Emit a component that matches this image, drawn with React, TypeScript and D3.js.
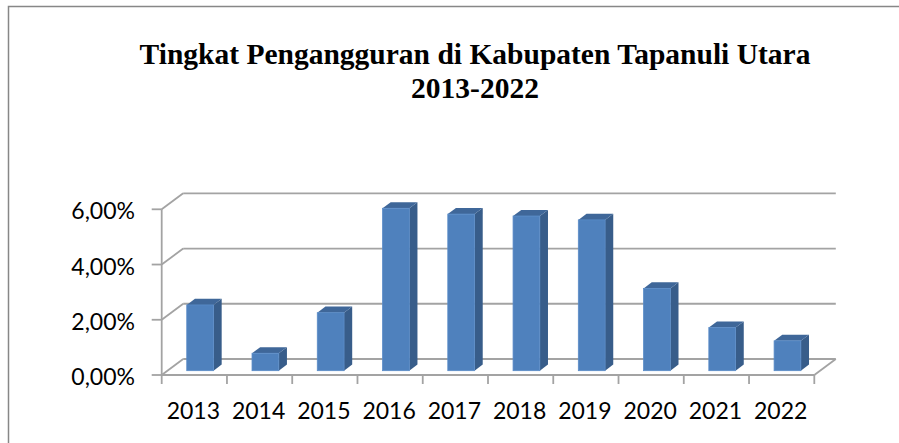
import React from "react";
import * as d3 from "d3";

const years = ["2013", "2014", "2015", "2016", "2017", "2018", "2019", "2020", "2021", "2022"];
const rates = [2.38, 0.63, 2.1, 5.88, 5.67, 5.6, 5.46, 2.98, 1.56, 1.08];
const yTicks = [0, 2, 4, 6];
const titleLines = ["Tingkat Pengangguran di Kabupaten Tapanuli Utara", "2013-2022"];

const W = 899;
const H = 443;
const DX = 21.5;
const DY = -16;
const BAR_DEPTH_START = 0.27;
const BAR_DEPTH = 0.38;

export default function App() {
  const x = d3.scaleBand<string>().domain(years).range([161.7, 814.3]).padding(0);
  const y = d3.scaleLinear().domain([0, 6]).range([375, 209.3]);
  const x0 = x.range()[0];
  const x1 = x.range()[1];
  const bw = x.bandwidth() * 0.41;
  const fmt = (v: number) => v.toFixed(2).replace(".", ",") + "%";
  const grid = "#a3a3a3";
  const fdx = BAR_DEPTH_START * DX;
  const fdy = BAR_DEPTH_START * DY;
  const bdx = BAR_DEPTH * DX;
  const bdy = BAR_DEPTH * DY;

  return (
    <svg width={W} height={H} style={{ position: "absolute", left: 0, top: 0 }}>
      <rect x={0} y={0} width={W} height={H} fill="#fff" />
      <rect x={8.5} y={6.5} width={950} height={500} fill="none" stroke="#878787" strokeWidth={1.5} />
      {titleLines.map((t, i) => (
        <text
          key={t}
          x={475}
          y={64 + i * 34}
          textAnchor="middle"
          fontFamily="'Liberation Serif', 'Times New Roman', serif"
          fontWeight="bold"
          fontSize={29.5}
          fill="#000"
        >
          {t}
        </text>
      ))}
      {/* back wall gridlines and left wall diagonals */}
      {yTicks.map((v) => (
        <g key={"g" + v} stroke={grid} strokeWidth={1.8} fill="none">
          <line x1={x0 + DX} y1={y(v) + DY} x2={x1 + DX} y2={y(v) + DY} />
          <line x1={x0} y1={y(v)} x2={x0 + DX} y2={y(v) + DY} />
          <line x1={x0 - 10} y1={y(v)} x2={x0} y2={y(v)} />
        </g>
      ))}
      <g stroke={grid} strokeWidth={1.8} fill="none">
        <line x1={x0} y1={y(0)} x2={x0} y2={y(6)} />
        <line x1={x0} y1={y(0)} x2={x1} y2={y(0)} />
        <line x1={x1} y1={y(0)} x2={x1 + DX} y2={y(0) + DY} />
        {years.map((yr) => (
          <line key={"t" + yr} x1={(x(yr) as number) + x.bandwidth()} y1={y(0)} x2={(x(yr) as number) + x.bandwidth()} y2={y(0) + 9} />
        ))}
        <line x1={x0} y1={y(0)} x2={x0} y2={y(0) + 9} />
      </g>
      {/* bars */}
      {years.map((yr, i) => {
        const cx = (x(yr) as number) + x.bandwidth() / 2;
        const l = cx - bw / 2 + fdx;
        const r = cx + bw / 2 + fdx;
        const top = y(rates[i]) + fdy;
        const bot = y(0) + fdy;
        return (
          <g key={"b" + yr}>
            <polygon
              points={`${r},${top} ${r + bdx},${top + bdy} ${r + bdx},${bot + bdy} ${r},${bot}`}
              fill="#385d8a"
            />
            <polygon
              points={`${l},${top} ${l + bdx},${top + bdy} ${r + bdx},${top + bdy} ${r},${top}`}
              fill="#3f6799"
            />
            <rect x={l} y={top} width={r - l} height={bot - top} fill="#4f81bd" stroke="#5a8cc8" strokeWidth={0.8} />
          </g>
        );
      })}
      {yTicks.map((v) => (
        <text
          key={"l" + v}
          x={135}
          y={y(v) + 10}
          textAnchor="end"
          fontFamily="Lato, 'Open Sans', sans-serif"
          fontSize={23}
          fill="#000"
        >
          {fmt(v)}
        </text>
      ))}
      {years.map((yr) => (
        <text
          key={"c" + yr}
          x={(x(yr) as number) + x.bandwidth() / 2 - 1}
          y={419}
          textAnchor="middle"
          fontFamily="Lato, 'Open Sans', sans-serif"
          fontSize={23}
          fill="#000"
        >
          {yr}
        </text>
      ))}
    </svg>
  );
}
